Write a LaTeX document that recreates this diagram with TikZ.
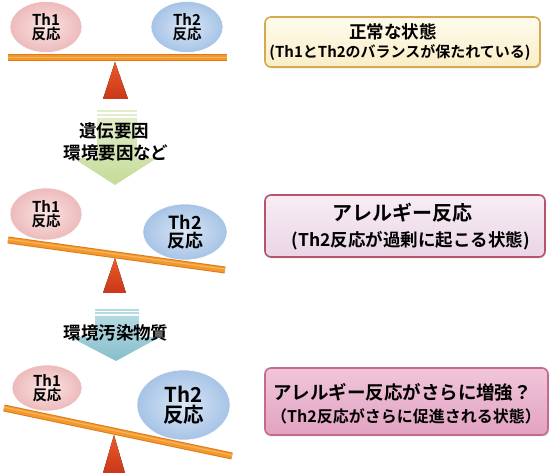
\documentclass[tikz,border=0pt]{standalone}
\usepackage{fontspec}
\setmainfont{Noto Sans CJK JP}[BoldFont={* Bold}]
\usetikzlibrary{shapes.geometric,shadows}
\definecolor{beamc}{HTML}{F2992E}
\definecolor{beamd}{HTML}{E07A18}
\definecolor{beaml}{HTML}{F6B55C}
\definecolor{trit}{HTML}{EC5A28}
\definecolor{trib}{HTML}{C8381A}
\definecolor{thai}{HTML}{FBE4E4}
\definecolor{thao}{HTML}{EDBABA}
\definecolor{thbi}{HTML}{DAE7F6}
\definecolor{thbo}{HTML}{A6C3E6}
\definecolor{grt}{HTML}{E2EDCB}
\definecolor{grb}{HTML}{C5DB98}
\definecolor{tlt}{HTML}{B4DAE2}
\definecolor{tlb}{HTML}{86BECB}
\definecolor{boxAt}{HTML}{FFFCEE}
\definecolor{boxAb}{HTML}{FAEDC6}
\definecolor{boxAd}{HTML}{D5A94E}
\definecolor{boxBt}{HTML}{F8EDF5}
\definecolor{boxBb}{HTML}{EAD5E5}
\definecolor{boxBd}{HTML}{B5546A}
\definecolor{boxCt}{HTML}{F0C6DA}
\definecolor{boxCb}{HTML}{E2A2C1}
\definecolor{boxCd}{HTML}{C46B8C}
\tikzset{
  thone/.style={ellipse, inner sep=0pt, inner color=thai, outer color=thao, draw=white, line width=0.6pt, align=center, font=\bfseries},
  thtwo/.style={ellipse, inner sep=0pt, inner color=thbi, outer color=thbo, draw=white, line width=0.6pt, align=center, font=\bfseries},
  statebox/.style={rectangle, rounded corners=6pt, line width=1.6pt, drop shadow={opacity=0.25, shadow xshift=1pt, shadow yshift=-1.5pt}},
  txt/.style={inner sep=0pt, font=\bfseries},
  tri/.style={top color=trit, bottom color=trib, draw=none}
}
\newcommand{\fs}[1]{\fontsize{#1}{#1}\selectfont}
\newcommand{\beam}[2]{%
  \draw[line width=7pt, beamd] (#1) -- (#2);
  \draw[line width=5pt, beamc] (#1) -- (#2);
  \draw[line width=1.2pt, beaml] ([yshift=0.8pt]#1) -- ([yshift=0.8pt]#2);}
\begin{document}
\begin{tikzpicture}[x=1pt,y=-1pt]
\useasboundingbox[fill=white] (0,0) rectangle (550,473);

% ---------- panel 1 ----------
\node[thone, minimum width=72pt, minimum height=51pt] (a1) at (46,27) {\fs{15}Th1\\[1pt]\fs{14.5}反応};
\node[thtwo, minimum width=72pt, minimum height=51pt] (b1) at (187,27) {\fs{15}Th2\\[1pt]\fs{14.5}反応};
\fill[tri] (115,62) -- (128,99) -- (103,99) -- cycle;
\coordinate (l1) at (8,58);
\coordinate (r1) at (227,58);
\beam{l1}{r1}

\node[statebox, top color=boxAt, bottom color=boxAb, draw=boxAd, minimum width=275pt, minimum height=50pt] (s1) at (402.5,42) {};
\node[txt] (s1t) at (393,32) {\fs{17.5}正常な状態};
\node[txt] (s1s) at (400,53) {\fs{15}(Th1とTh2のバランスが保たれている)};

% ---------- green arrow ----------
\fill[grt] (97,110) rectangle (137,112.5);
\fill[grt] (97,114) rectangle (137,116.5);
\shade[top color=grt, bottom color=grb] (97,118) -- (137,118) -- (137,158) -- (157,158) -- (115,185) -- (73,158) -- (97,158) -- cycle;
\node[txt] (g1) at (114,131) {\fs{17.5}遺伝要因};
\node[txt] (g2) at (116,153) {\fs{17.5}環境要因など};

% ---------- panel 2 ----------
\node[thone, minimum width=72pt, minimum height=52pt] (a2) at (46,214) {\fs{15}Th1\\[1pt]\fs{14.5}反応};
\node[thtwo, minimum width=84pt, minimum height=56pt] (b2) at (185,232) {\fs{18}Th2\\[1pt]\fs{18}反応};
\fill[tri] (115,258) -- (126,293) -- (103,293) -- cycle;
\coordinate (l2) at (8,240);
\coordinate (r2) at (225,270);
\beam{l2}{r2}

\node[statebox, top color=boxBt, bottom color=boxBb, draw=boxBd, minimum width=280pt, minimum height=62pt] (s2) at (405,226) {};
\node[txt] (s2t) at (402.5,213) {\fs{20}アレルギー反応};
\node[txt] (s2s) at (411,241) {\fs{17.5}(Th2反応が過剰に起こる状態)};

% ---------- teal arrow ----------
\fill[tlt] (95,309) rectangle (139,311);
\fill[tlt] (95,312.5) rectangle (139,314.5);
\shade[top color=tlt, bottom color=tlb] (95,316) -- (139,316) -- (139,337) -- (160,337) -- (116,361) -- (70,337) -- (95,337) -- cycle;
\node[txt] (t1) at (116,332.5) {\fs{17.5}環境汚染物質};

% ---------- panel 3 ----------
\node[thone, minimum width=70pt, minimum height=46pt] (a3) at (47,388) {\fs{15}Th1\\[1pt]\fs{14.5}反応};
\node[thtwo, minimum width=93pt, minimum height=70pt] (b3) at (183.5,405) {\fs{20.5}Th2\\[2pt]\fs{20.5}反応};
\fill[tri] (114,435) -- (125,473) -- (103,473) -- cycle;
\coordinate (l3) at (4,408);
\coordinate (r3) at (232,456);
\beam{l3}{r3}

\node[statebox, top color=boxCt, bottom color=boxCb, draw=boxCd, minimum width=283pt, minimum height=67pt] (s3) at (406.5,401.5) {};
\node[txt] (s3t) at (402.5,392) {\fs{18.5}アレルギー反応がさらに増強？};
\node[txt] (s3s) at (406,416) {\fs{16}（Th2反応がさらに促進される状態）};
\end{tikzpicture}
\end{document}
